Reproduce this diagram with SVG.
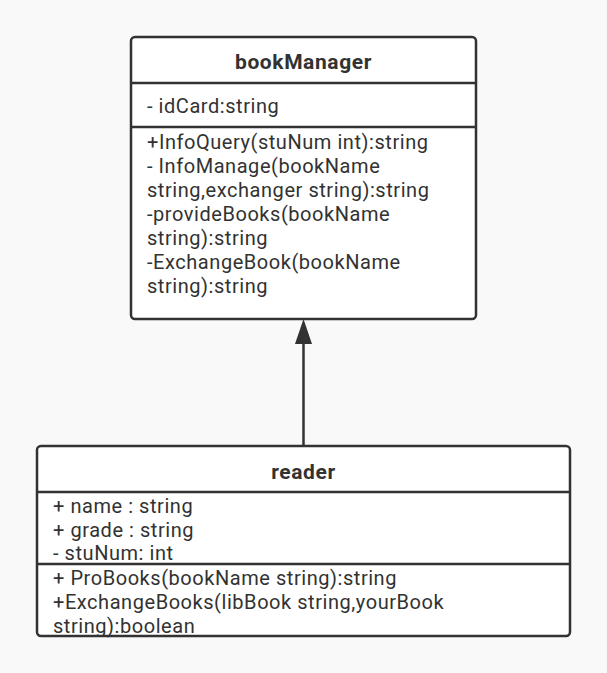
<svg xmlns="http://www.w3.org/2000/svg" width="607" height="673" viewBox="0 0 607 673">
<defs>
<style>
.box{fill:#ffffff;stroke:#323232;stroke-width:2.5}
.div{stroke:#323232;stroke-width:2.5}
.t{font-family:Roboto,"Noto Sans",sans-serif;font-size:20px;letter-spacing:0.55px;fill:#323232}
.h{font-family:Roboto,"Noto Sans",sans-serif;font-size:21px;letter-spacing:0.6px;font-weight:bold;fill:#323232;text-anchor:middle}
</style>
</defs>
<rect width="607" height="673" fill="#f9f9f9"/>
<g id="connectors">
<line x1="303.5" y1="446" x2="303.5" y2="340" stroke="#323232" stroke-width="2.5"/>
<polygon points="303.5,319 312,344 295,344" fill="#323232"/>
</g>
<g id="bookManager">
<rect class="box" x="131" y="37" width="345" height="282" rx="4"/>
<line class="div" x1="131" y1="83" x2="476" y2="83"/>
<line class="div" x1="131" y1="127" x2="476" y2="127"/>
<text class="h" x="303.5" y="69">bookManager</text>
<text class="t" x="147" y="113">- idCard:string</text>
<text class="t" x="147" y="149">+InfoQuery(stuNum int):string</text>
<text class="t" x="147" y="173">- InfoManage(bookName</text>
<text class="t" x="147" y="197">string,exchanger string):string</text>
<text class="t" x="147" y="221">-provideBooks(bookName</text>
<text class="t" x="147" y="245">string):string</text>
<text class="t" x="147" y="269">-ExchangeBook(bookName</text>
<text class="t" x="147" y="293">string):string</text>
</g>
<g id="reader">
<rect class="box" x="37" y="446" width="533" height="190" rx="4"/>
<line class="div" x1="37" y1="492" x2="570" y2="492"/>
<line class="div" x1="37" y1="564" x2="570" y2="564"/>
<text class="h" x="303.5" y="479">reader</text>
<text class="t" x="53" y="513">+ name : string</text>
<text class="t" x="53" y="537">+ grade : string</text>
<text class="t" x="53" y="560">- stuNum: int</text>
<text class="t" x="53" y="585">+ ProBooks(bookName string):string</text>
<text class="t" x="53" y="609">+ExchangeBooks(libBook string,yourBook</text>
<text class="t" x="53" y="633">string):boolean</text>
</g>
</svg>
